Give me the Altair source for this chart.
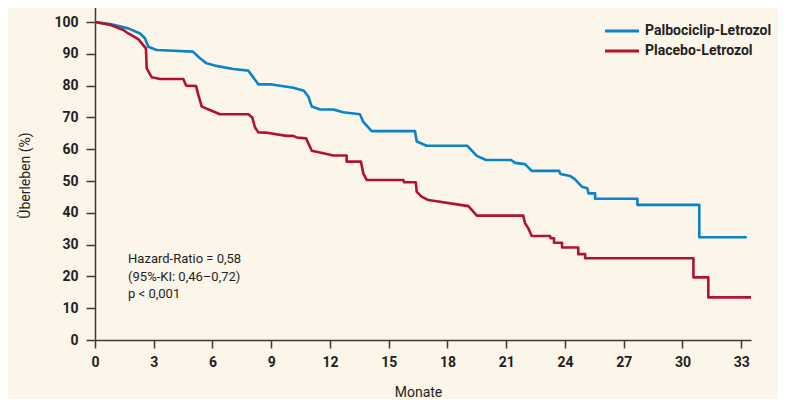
import altair as alt
import pandas as pd

# Kaplan-Meier curves (months, survival %)
blue_t = [0, 0.77, 1.7, 2.3, 2.55, 2.72, 3.15, 5.0, 5.36, 5.7, 6.2, 7.06, 7.83, 8.0, 8.34, 8.94,
          10.13, 10.67, 10.9, 11.07, 11.5, 12.17, 12.68, 13.53, 13.7, 14.13, 16.34, 16.43, 16.94,
          19.0, 19.5, 19.97, 21.25, 21.45, 21.96, 22.3, 23.7, 23.77, 24.26, 24.5, 24.86, 25.14,
          25.2, 25.54, 25.54, 27.7, 27.7, 30.86, 30.86, 33.28]
blue_s = [100, 99.4, 98, 96.4, 94.9, 92.2, 91.2, 90.7, 88.6, 87, 86.2, 85.2, 84.7, 83.3, 80.4, 80.4,
          79.3, 78.4, 76.5, 73.4, 72.5, 72.5, 71.6, 71.0, 68.6, 65.7, 65.7, 62.4, 61.1,
          61.1, 57.9, 56.6, 56.6, 55.7, 55.3, 53.2, 53.2, 52.2, 51.6, 50.6, 48.2, 47.7,
          46.1, 46.1, 44.4, 44.4, 42.5, 42.5, 32.3, 32.3]

red_t = [0, 0.77, 1.45, 1.7, 2.21, 2.6, 2.64, 2.9, 3.32, 4.51, 4.65, 5.16, 5.28, 5.45, 5.96, 6.38,
         7.83, 8.03, 8.17, 8.34, 8.77, 9.79, 10.13, 10.3, 10.78, 11.07, 11.66, 12.17, 12.85, 12.85,
         13.58, 13.7, 13.88, 15.75, 15.78, 16.38, 16.43, 16.68, 17.02, 17.62, 18.64, 19.07, 19.5,
         21.87, 21.96, 22.13, 22.3, 23.24, 23.27, 23.44, 23.44, 23.85, 23.85, 24.68, 24.68, 25.03,
         25.03, 30.56, 30.56, 31.32, 31.32, 33.5]
red_s = [100, 99.1, 97.5, 96.4, 94.6, 91.7, 85.4, 82.6, 82.1, 82.1, 80.0, 79.9, 77.0, 73.4, 72.1, 71.0,
         71.0, 70.0, 66.9, 65.3, 65.2, 64.2, 64.2, 63.7, 63.4, 59.5, 58.7, 58.0, 58.0, 56.1,
         56.1, 52.4, 50.3, 50.3, 49.6, 49.6, 46.6, 45.1, 44.0, 43.5, 42.5, 42.1, 39.1,
         39.1, 36.7, 35.1, 32.7, 32.7, 32.0, 32.0, 30.6, 30.6, 29.1, 29.1, 27.0, 27.0,
         25.7, 25.7, 19.7, 19.7, 13.4, 13.4]

groups = ["Palbociclip-Letrozol", "Placebo-Letrozol"]
colors = ["#0a84c8", "#b3122e"]

x_ticks = list(range(0, 34, 3))
y_ticks = list(range(0, 101, 10))

note_lines = ["Hazard-Ratio = 0,58", "(95%-KI: 0,46–0,72)", "p < 0,001"]
note_x = [1.69, 1.69, 1.69]
note_y = [25.5, 19.9, 14.5]

rows = []
for i, (t, s) in enumerate(zip(blue_t, blue_s)):
    rows.append({"t": t, "s": s, "g": groups[0], "o": i})
for i, (t, s) in enumerate(zip(red_t, red_s)):
    rows.append({"t": t, "s": s, "g": groups[1], "o": i})
df = pd.DataFrame(rows)
notes = pd.DataFrame({"txt": note_lines, "t": note_x, "s": note_y})

FONT = "Roboto"
INK = "#231f20"
BG = "#fcf5e9"

xscale = alt.Scale(domain=[0, 33.5], nice=False, zero=False)
yscale = alt.Scale(domain=[0, 105.35], nice=False, zero=False)

xaxis = alt.Axis(values=x_ticks, title="Monate", grid=False, tickSize=8,
                 labelPadding=7, labelFontSize=14, labelFontWeight="bold",
                 labelFont=FONT, labelColor=INK, domainColor="#3a3a3a",
                 tickColor="#3a3a3a", domainWidth=1.5, tickWidth=1.5,
                 titleFont=FONT, titleFontSize=14, titleFontWeight="normal",
                 titleColor=INK, titleX=323, titleY=52, titleBaseline="middle",
                 labelFlush=False, labelOverlap=False)
yaxis = alt.Axis(values=y_ticks, title="Überleben (%)", grid=False, tickSize=9,
                 labelPadding=8, labelFontSize=14, labelFontWeight="bold",
                 labelFont=FONT, labelColor=INK, domainColor="#3a3a3a",
                 tickColor="#3a3a3a", domainWidth=1.5, tickWidth=1.5,
                 titleFont=FONT, titleFontSize=14, titleFontWeight="normal",
                 titleColor=INK, titleX=-70, titleY=170, titleAlign="center",
                 titleBaseline="middle", labelOverlap=False, tickCount=11)

lines = alt.Chart(df).mark_line(strokeWidth=2.6, strokeJoin="round").encode(
    x=alt.X("t:Q", scale=xscale, axis=xaxis),
    y=alt.Y("s:Q", scale=yscale, axis=yaxis),
    color=alt.Color("g:N", scale=alt.Scale(domain=groups, range=colors),
                    legend=alt.Legend(title=None, orient="none", legendX=520, legendY=19,
                                      symbolType="M-3.4,0H3.4", symbolSize=100,
                                      symbolStrokeWidth=3, labelFont=FONT, labelFontSize=14,
                                      labelFontWeight="bold", labelColor=INK, labelOffset=16,
                                      rowPadding=6, padding=0, labelLimit=300)),
    order="o:Q",
)

text = alt.Chart(notes).mark_text(align="left", baseline="middle", font=FONT, fontSize=13,
                                  color=INK).encode(
    x=alt.X("t:Q", scale=xscale, axis=xaxis),
    y=alt.Y("s:Q", scale=yscale, axis=yaxis),
    text="txt:N")

chart = alt.layer(lines, text).properties(
    width=656, height=335, background=BG,
    autosize=alt.AutoSizeParams(type="none"),
    padding={"left": 87, "top": -3, "right": 27, "bottom": 59},
).configure_view(stroke=None)

chart.save("out.html", embed_options={"renderer": "svg", "actions": False})
